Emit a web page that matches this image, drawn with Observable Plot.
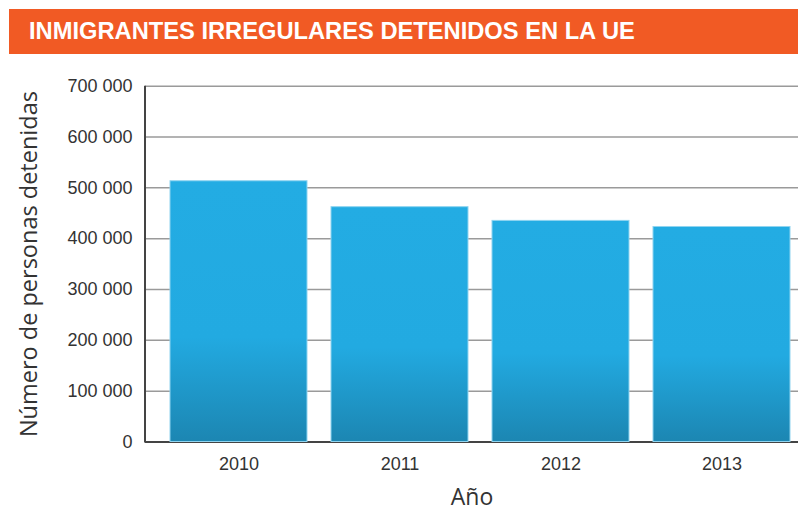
<!DOCTYPE html>
<html>
<head>
<meta charset="utf-8">
<script src="https://cdn.jsdelivr.net/npm/d3@7"></script>
<script src="https://cdn.jsdelivr.net/npm/@observablehq/plot@0.6"></script>
<style>
  body { margin: 0; background: #fff; width: 798px; height: 515px; overflow: hidden; }
  #title {
    margin: 9px 0 0 9px; height: 45px; line-height: 45px;
    background: #f15a24; color: #fff; padding-left: 20px;
    font-family: "Liberation Sans", sans-serif;
    font-weight: bold; font-size: 23.7px; white-space: nowrap;
  }
  #chart svg { display: block; }
</style>
</head>
<body>
<div id="title">INMIGRANTES IRREGULARES DETENIDOS EN LA UE</div>
<div id="chart"></div>
<script>
const years = ["2010", "2011", "2012", "2013"];
const detained = [513000, 462000, 435000, 423000];
const yTicks = [0, 100000, 200000, 300000, 400000, 500000, 600000, 700000];
const yLabel = "Número de personas detenidas";
const xLabel = "Año";

const data = years.map((y, i) => ({year: y, value: detained[i]}));
const fmt = d => d3.format(",")(d).replace(/,/g, " ");

const H = 461, MT = 31.7, MB = 73.5;
const svg = Plot.plot({
  width: 798,
  height: H,
  marginTop: MT,
  marginBottom: MB,
  marginLeft: 145,
  marginRight: 0,
  style: {fontFamily: "Liberation Sans, sans-serif", fontSize: "18px", color: "#333", background: "#fff"},
  x: {domain: years, paddingInner: 0.149, paddingOuter: 0.102, align: 0.77, label: null, tickSize: 0, tickPadding: 15},
  y: {domain: [0, 700000], ticks: yTicks, tickFormat: fmt, label: null, tickSize: 0, tickPadding: 13},
  marks: [
    Plot.ruleY(yTicks.filter(d => d > 0), {stroke: "#9a9a9a", strokeWidth: 1.5}),
    Plot.ruleY([0], {stroke: "#444", strokeWidth: 2}),
    Plot.barY(data, {x: "year", y: "value", fill: "url(#barGrad)", stroke: "#8fd4f0", strokeWidth: 1}),
    Plot.text([yLabel], {frameAnchor: "left", textAnchor: "middle", dx: -116, rotate: -90, fontSize: 23.5, fill: "#333", fontFamily: "Open Sans, sans-serif"}),
    Plot.text([xLabel], {frameAnchor: "bottom", textAnchor: "middle", dy: 63, fontSize: 23, fill: "#333", fontFamily: "Open Sans, sans-serif"})
  ]
});

d3.select(svg).insert("defs", ":first-child").html(`
  <linearGradient id="barGrad" x1="0" y1="0" x2="0" y2="1">
    <stop offset="0" stop-color="#23ace3"/>
    <stop offset="0.6" stop-color="#22aae1"/>
    <stop offset="1" stop-color="#1c86b2"/>
  </linearGradient>`);

// left axis line
d3.select(svg).append("line")
  .attr("x1", 145).attr("x2", 145).attr("y1", MT).attr("y2", H - MB + 1)
  .attr("stroke", "#444").attr("stroke-width", 2);

document.getElementById("chart").appendChild(svg);
</script>
</body>
</html>
